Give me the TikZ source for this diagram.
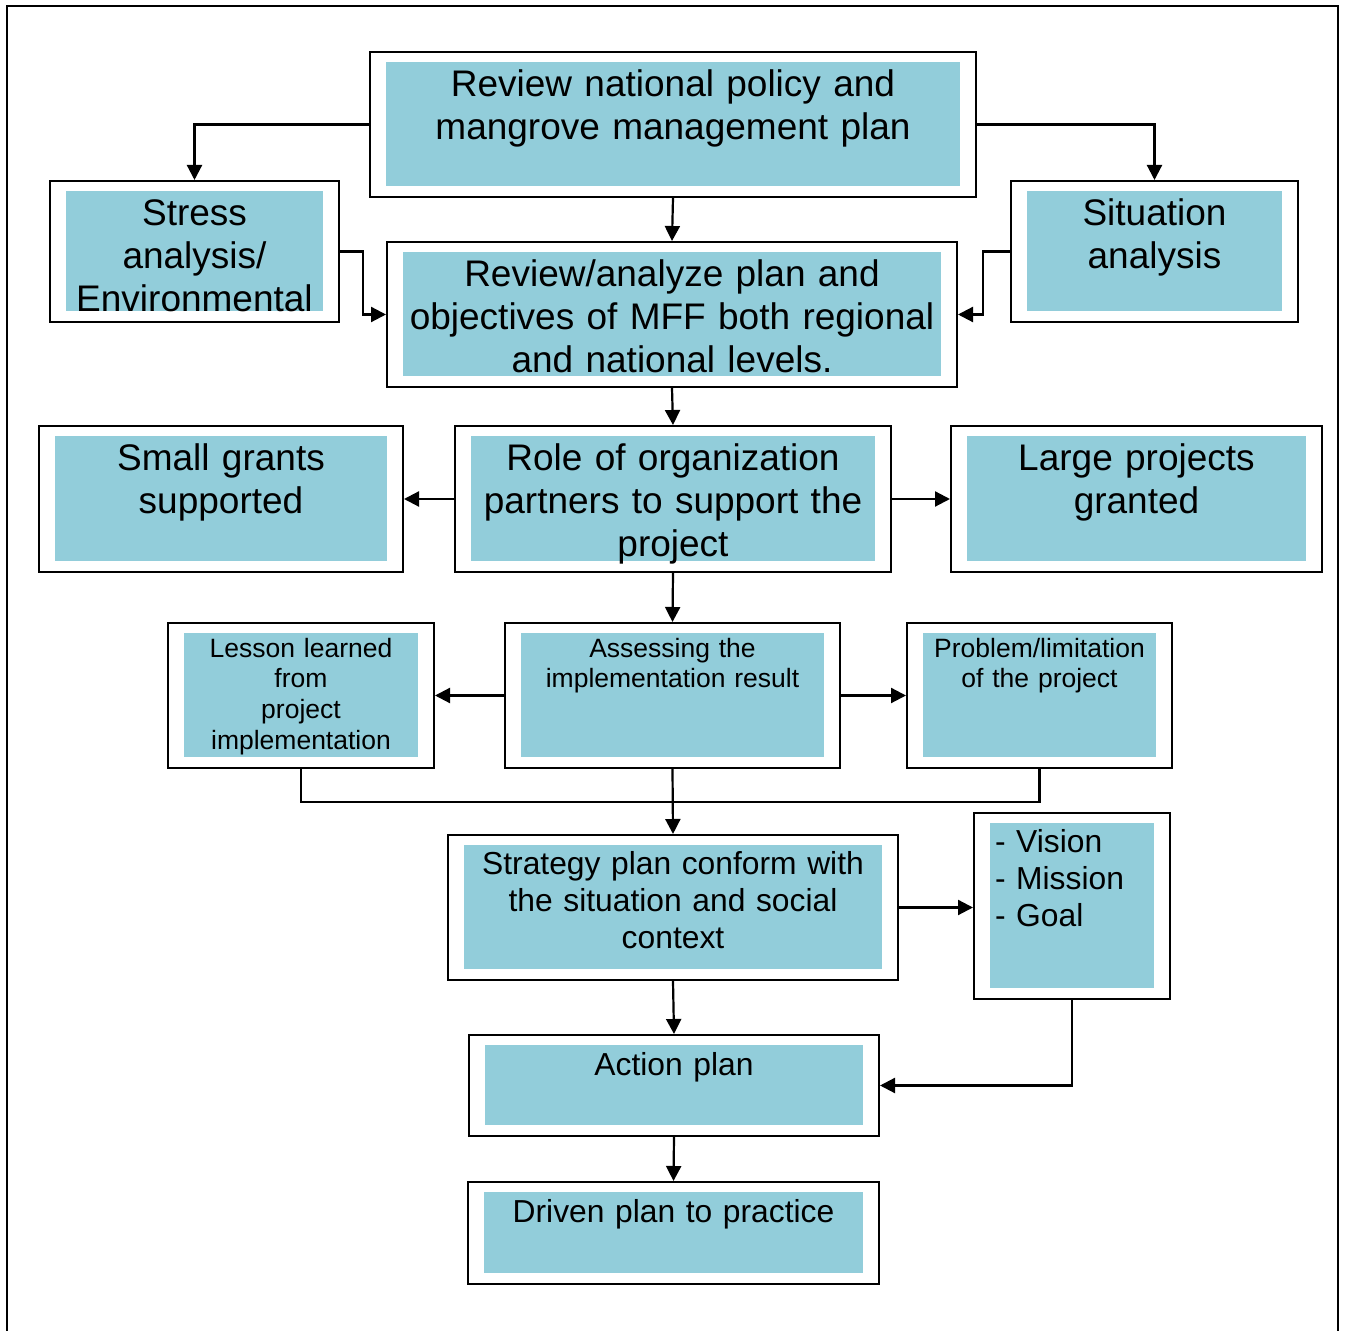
\documentclass[tikz,border=0pt]{standalone}
\usepackage{fontspec}
\setmainfont{Liberation Sans}
\usetikzlibrary{arrows.meta}
\definecolor{boxblue}{RGB}{146,205,218}
\tikzset{
  flow/.style={draw, line width=1pt, fill=white, inner sep=0pt, align=center,
    path picture={\fill[boxblue] ([shift={(16,10)}]path picture bounding box.north west)
      rectangle ([shift={(-16,-11)}]path picture bounding box.south east);}},
  bigtxt/.style={font=\fontsize{18.5}{21.5}\selectfont, text height=22.5pt},
  midtxt/.style={font=\fontsize{15.9}{18.5}\selectfont, text height=20pt},
  smalltxt/.style={font=\fontsize{13.25}{15.3}\selectfont, text height=17.2pt},
  link/.style={line width=1.1pt, -{Triangle[length=7.5pt,width=7.5pt]}}
}
\begin{document}
\begin{tikzpicture}[x=0.5pt, y=-0.5pt]
      \useasboundingbox (0,0) rectangle (1346,1331);
      % FRAME
      \draw[line width=1pt] (7,1331) -- (7,6) -- (1338,6) -- (1338,1331);
      % REVIEW ROWS
      \node[flow, bigtxt, minimum width=303pt, text width=295pt, text depth=50pt] (review) at (673,124.5)
        {Review national policy and\\mangrove management plan};
      \node[flow, bigtxt, minimum width=144.5pt, text width=136.5pt, text depth=48pt] (stress) at (194.5,251.5)
        {Stress\\analysis/\\Environmental};
      \node[flow, bigtxt, minimum width=143.5pt, text width=135.5pt, text depth=48pt] (situation) at (1154.5,251.5)
        {Situation\\analysis};
      \node[flow, bigtxt, minimum width=285pt, text width=277pt, text depth=50pt] (analyze) at (672,314.5)
        {Review/analyze plan and\\objectives of MFF both regional\\and national levels.};
      % PARTNER ROW
      \node[flow, bigtxt, minimum width=182pt, text width=174pt, text depth=50.5pt] (small) at (221,499)
        {Small grants\\supported};
      \node[flow, bigtxt, minimum width=218pt, text width=210pt, text depth=50.5pt] (role) at (673,499)
        {Role of organization\\partners to support the\\project};
      \node[flow, bigtxt, minimum width=185.5pt, text width=177.5pt, text depth=50.5pt] (large) at (1136.5,499)
        {Large projects\\granted};
      % ASSESSMENT ROW
      \node[flow, smalltxt, minimum width=133pt, text width=125pt, text depth=55.3pt] (lesson) at (301,695.5)
        {Lesson learned\\from\\project\\implementation};
      \node[flow, smalltxt, minimum width=167.5pt, text width=159.5pt, text depth=55.3pt] (assess) at (672.5,695.5)
        {Assessing the\\implementation result};
      \node[flow, smalltxt, minimum width=132.5pt, text width=124.5pt, text depth=55.3pt] (problem) at (1039.5,695.5)
        {Problem/limitation\\of the project};
      % PLANNING
      \node[flow, midtxt, minimum width=225pt, text width=217pt, text depth=52.5pt] (strategy) at (673,907.5)
        {Strategy plan conform with\\the situation and social\\context};
      \node[flow, midtxt, align=left, text width=77pt, minimum width=98pt, text depth=73pt] (vision) at (1072,906)
        {- Vision\\- Mission\\- Goal};
      \node[flow, midtxt, minimum width=205pt, text width=197pt, text height=20.3pt, text depth=30.2pt] (action) at (674,1085.5)
        {Action plan};
      \node[flow, midtxt, minimum width=205.5pt, text width=197.5pt, text height=20.3pt, text depth=30.7pt] (driven) at (673.5,1233)
        {Driven plan to practice};
      % CONNECTORS
      \draw[link] (review.west) -| (stress.north);
      \draw[link] (review.east) -| (situation.north);
      \draw[link] (review.south) -- (analyze.north);
      \draw[link] (stress.east) -- ++(23,0) |- (analyze.west);
      \draw[link] (situation.west) -- ++(-27,0) |- (analyze.east);
      \draw[link] (analyze.south) -- (role.north);
      \draw[link] (role.west) -- (small.east);
      \draw[link] (role.east) -- (large.west);
      \draw[link] (role.south) -- (assess.north);
      \draw[link] (assess.west) -- (lesson.east);
      \draw[link] (assess.east) -- (problem.west);
      \draw[line width=1.1pt] (lesson.south) -- ++(0,33) -| (problem.south);
      \draw[link] (assess.south) -- (strategy.north);
      \draw[link] (strategy.east) -- (strategy.east -| vision.west);
      \draw[link] (vision.south) |- (action.east);
      \draw[link] (strategy.south) -- (action.north);
      \draw[link] (action.south) -- (driven.north);
\end{tikzpicture}
\end{document}
